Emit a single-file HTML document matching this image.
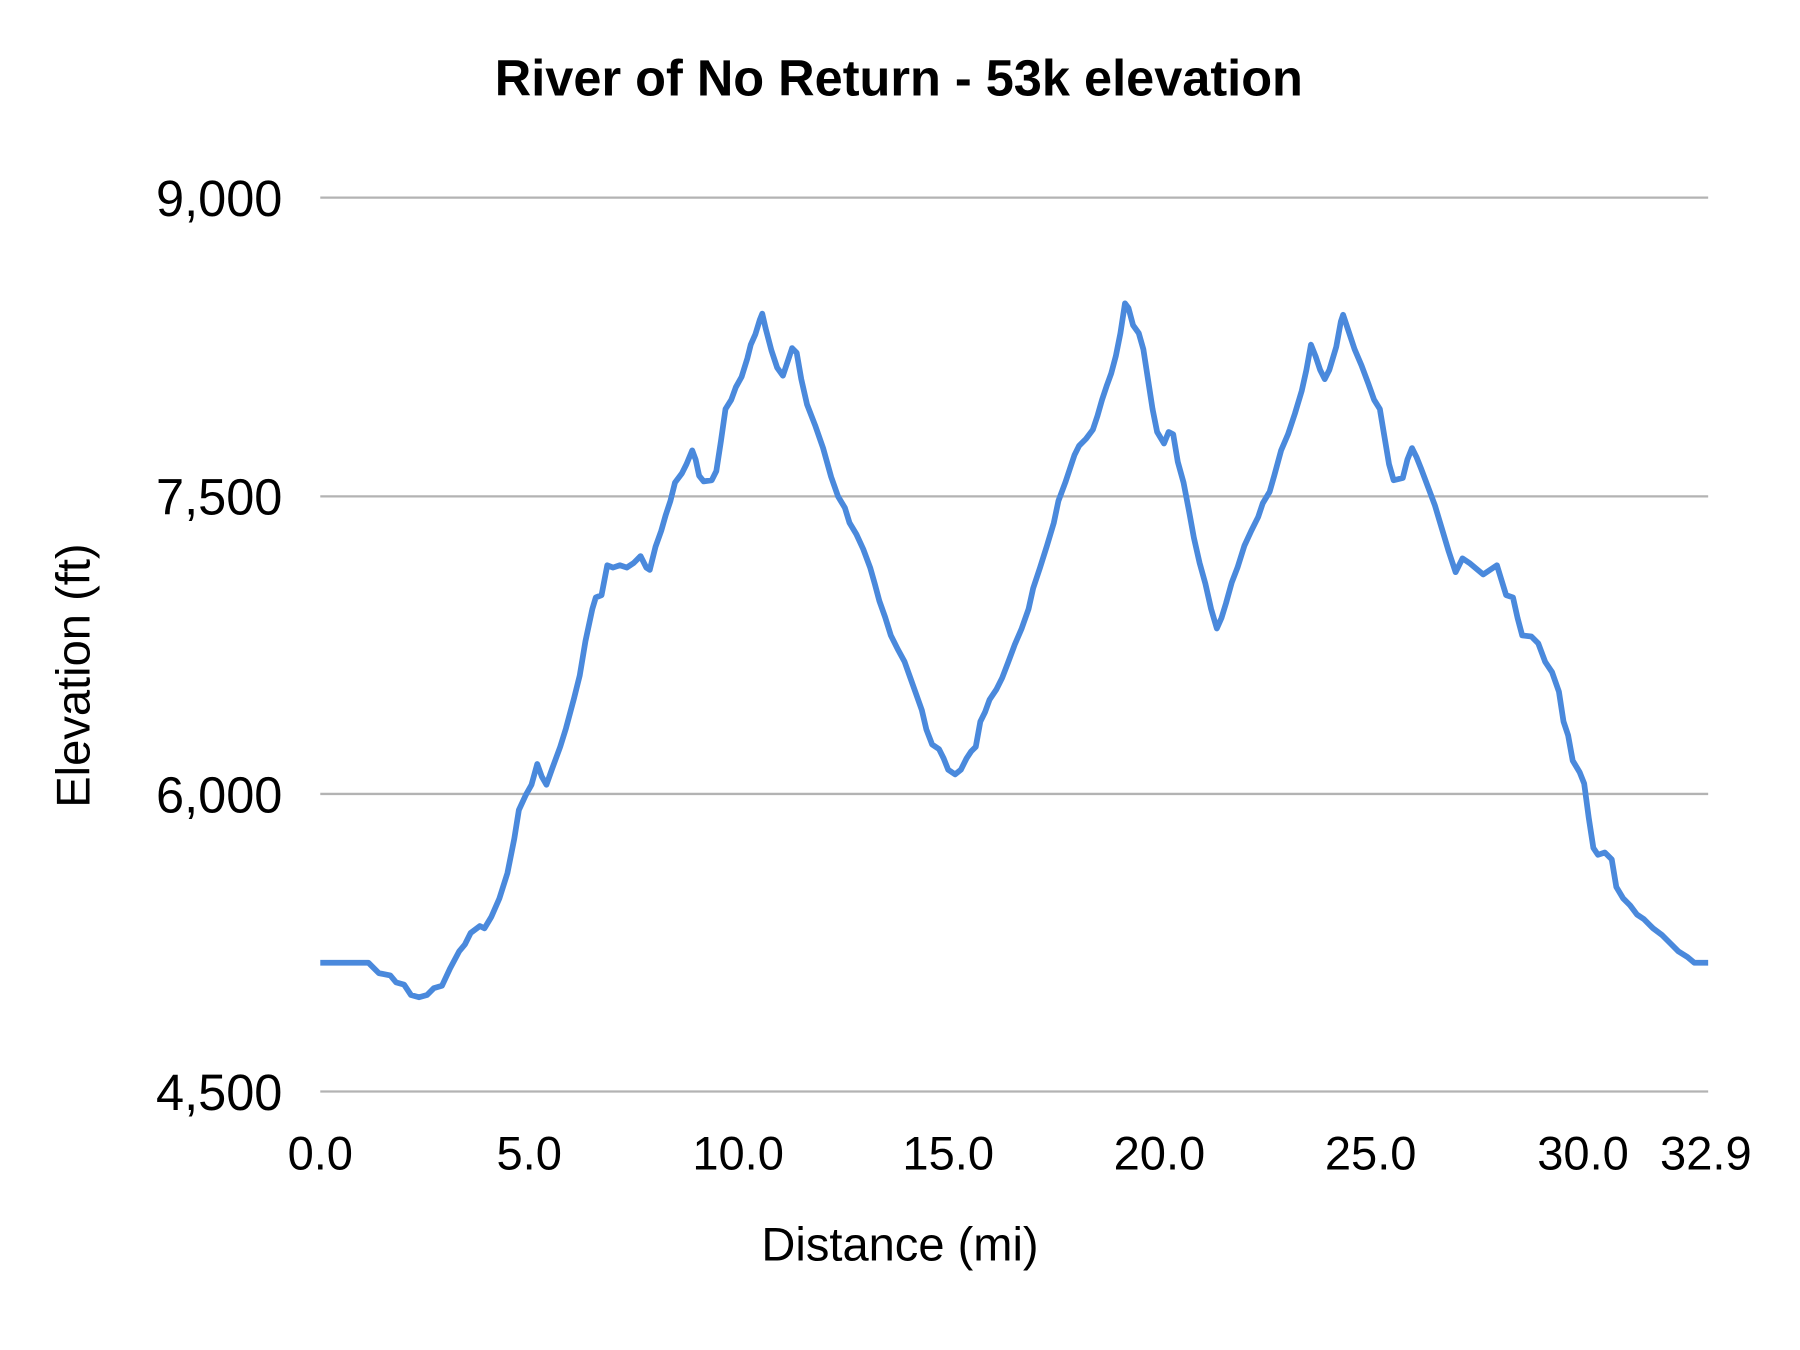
<!DOCTYPE html>
<html><head><meta charset="utf-8"><style>html,body{margin:0;padding:0;background:#fff;}svg{display:block}</style></head>
<body>
<svg width="1800" height="1350" viewBox="0 0 1568 1175" preserveAspectRatio="none" xmlns="http://www.w3.org/2000/svg" font-family="'Liberation Sans', sans-serif">
<rect width="1568" height="1175" fill="#fff"/>
<text x="783" y="83" text-anchor="middle" font-size="44" font-weight="bold" fill="#000">River of No Return - 53k elevation</text>
<g stroke="#b3b3b3" stroke-width="2">
<line x1="279" y1="172" x2="1488" y2="172"/>
<line x1="279" y1="432" x2="1488" y2="432"/>
<line x1="279" y1="691" x2="1488" y2="691"/>
<line x1="279" y1="950" x2="1488" y2="950"/>
</g>
<g font-size="44" fill="#000" text-anchor="end">
<text x="246" y="188">9,000</text>
<text x="246" y="448">7,500</text>
<text x="246" y="707">6,000</text>
<text x="246" y="966">4,500</text>
</g>
<g font-size="41" fill="#000" text-anchor="middle">
<text x="279" y="1018">0.0</text>
<text x="461" y="1018">5.0</text>
<text x="643" y="1018">10.0</text>
<text x="826" y="1018">15.0</text>
<text x="1010" y="1018">20.0</text>
<text x="1194" y="1018">25.0</text>
<text x="1379" y="1018">30.0</text>
<text x="1486" y="1018">32.9</text>
</g>
<text x="784" y="1097" text-anchor="middle" font-size="41" fill="#000">Distance (mi)</text>
<text transform="translate(78,588) rotate(-90)" text-anchor="middle" font-size="41" fill="#000">Elevation (ft)</text>
<polyline fill="none" stroke="#4a89dc" stroke-width="5" stroke-linejoin="round" points="279,838 321,838 330,847 340,849 345,855 352,857 358,866 365,868 372,866 378,860 385,858 392,843 400,828 405,822 410,812 418,806 422,808 428,798 435,782 442,760 448,730 452,705 458,692 463,683 468,665 472,676 476,683 481,669 488,650 493,634 500,608 505,588 510,558 516,530 519,520 524,518 529,492 534,494 540,492 546,494 552,490 558,484 563,494 566,496 571,476 576,462 580,448 584,436 588,420 594,412 598,404 603,392 606,400 609,414 613,419 620,418 624,410 628,384 632,356 637,348 641,337 646,328 651,312 654,300 658,291 662,278 664,273 667,286 672,305 677,320 682,327 686,315 690,303 694,307 698,330 703,352 710,370 717,390 724,415 730,432 736,442 740,455 746,465 752,478 758,494 762,508 766,523 771,537 776,553 782,565 788,576 793,590 798,604 803,618 807,635 812,648 818,652 822,660 826,670 832,674 837,670 842,660 846,654 850,650 854,628 858,620 862,609 868,600 873,590 878,577 884,561 890,547 896,530 900,512 906,494 912,475 918,455 922,436 928,420 932,408 936,396 940,388 946,382 952,374 956,362 960,348 964,336 968,325 972,310 976,290 980,264 983,268 987,283 992,290 996,304 1000,330 1004,356 1008,376 1014,386 1018,376 1022,378 1026,402 1031,420 1036,446 1040,468 1045,490 1050,508 1055,530 1060,547 1064,538 1068,525 1073,507 1078,494 1084,475 1090,462 1096,450 1100,438 1106,428 1110,414 1116,392 1122,378 1128,360 1134,340 1138,322 1142,300 1146,310 1150,322 1154,330 1158,322 1164,302 1168,280 1170,274 1174,286 1180,304 1186,318 1192,334 1197,348 1202,356 1206,380 1210,404 1214,418 1222,416 1226,400 1230,390 1234,398 1238,408 1244,424 1250,440 1256,460 1262,480 1268,498 1274,486 1280,490 1286,495 1292,500 1298,496 1304,492 1308,505 1312,518 1318,520 1322,538 1326,553 1334,554 1340,560 1346,576 1352,585 1358,602 1362,628 1366,640 1370,662 1376,672 1380,682 1384,712 1388,738 1392,744 1398,742 1404,748 1408,772 1414,782 1420,788 1426,796 1432,800 1440,808 1448,814 1455,821 1462,828 1470,833 1476,838 1488,838"/>
</svg>
</body></html>
